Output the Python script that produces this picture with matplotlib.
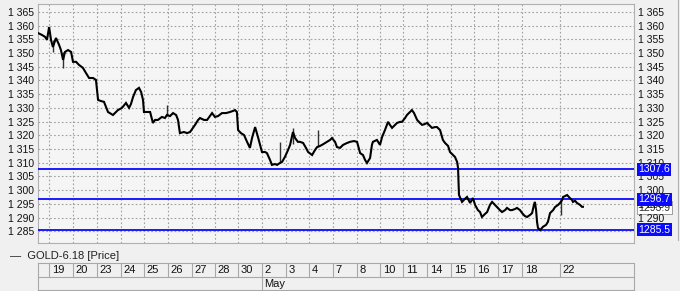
import matplotlib.pyplot as plt
import matplotlib.transforms as mtransforms

plt.rcParams['font.family'] = ['Liberation Sans', 'DejaVu Sans']

# price trace, time in trading days from left edge of the chart
t = [0.00, 0.17, 0.30, 0.38, 0.47, 0.55, 0.63, 0.76, 0.89, 0.97, 1.06, 1.14, 1.27, 1.40, 1.48,
     1.61, 1.73, 1.90, 2.03, 2.16, 2.33, 2.45, 2.54, 2.66, 2.79, 2.96, 3.09, 3.17, 3.30, 3.38,
     3.55, 3.72, 3.85, 3.93, 4.02, 4.14, 4.27, 4.36, 4.44, 4.48, 4.65, 4.74, 4.86, 4.95, 5.07,
     5.24, 5.37, 5.45, 5.58, 5.71, 5.84, 5.92, 6.00, 6.17, 6.30, 6.43, 6.55, 6.64, 6.77, 6.85,
     7.02, 7.15, 7.27, 7.36, 7.48, 7.61, 7.78, 7.95, 8.12, 8.25, 8.33, 8.41, 8.46, 8.58, 8.71,
     8.84, 8.96, 9.05, 9.18, 9.30, 9.39, 9.47, 9.60, 9.68, 9.81, 9.89, 10.02, 10.11, 10.23, 10.32,
     10.44, 10.57, 10.66, 10.78, 10.87, 10.99, 11.08, 11.21, 11.33, 11.42, 11.59, 11.71, 11.80, 11.92, 12.01,
     12.14, 12.22, 12.35, 12.43, 12.56, 12.64, 12.77, 12.90, 13.07, 13.19, 13.36, 13.49, 13.62, 13.74, 13.83,
     13.91, 14.04, 14.12, 14.16, 14.33, 14.46, 14.55, 14.67, 14.80, 14.88, 14.97, 15.10, 15.18, 15.31, 15.39,
     15.52, 15.60, 15.73, 15.81, 15.90, 16.03, 16.15, 16.24, 16.36, 16.45, 16.58, 16.66, 16.79, 16.87, 17.00,
     17.12, 17.21, 17.34, 17.42, 17.55, 17.63, 17.72, 17.76, 17.80, 17.93, 18.05, 18.14, 18.27, 18.39, 18.48,
     18.60, 18.69, 18.77, 18.90, 18.99, 19.11, 19.20, 19.32, 19.41, 19.53, 19.62, 19.75, 19.83, 19.96, 20.04,
     20.17, 20.25, 20.38, 20.47, 20.59, 20.68, 20.80, 20.89, 20.97, 21.01, 21.06, 21.10, 21.14, 21.23, 21.35,
     21.48, 21.56, 21.65, 21.78, 21.86, 21.99, 22.07, 22.16, 22.20, 22.28, 22.37, 22.49, 22.58, 22.62, 22.71,
     22.79, 22.92, 23.00, 23.04]
price = [1357.3, 1356.6, 1355.9, 1354.8, 1359.5, 1354.8, 1352.2, 1355.5, 1353.0, 1351.1, 1347.5, 1350.4, 1351.1, 1350.4, 1346.8,
         1346.8, 1345.7, 1344.6, 1342.7, 1340.9, 1340.9, 1340.2, 1332.9, 1332.5, 1332.2, 1328.5, 1327.8, 1327.4, 1328.5, 1329.2,
         1330.0, 1331.8, 1330.0, 1331.4, 1334.0, 1336.5, 1337.3, 1335.8, 1332.9, 1328.5, 1328.5, 1328.5, 1324.5, 1325.6, 1325.6,
         1326.7, 1326.3, 1327.4, 1327.0, 1328.1, 1327.4, 1325.6, 1320.8, 1321.2, 1320.8, 1321.2, 1322.7, 1323.8, 1325.6, 1326.3,
         1325.6, 1325.6, 1327.0, 1328.1, 1326.7, 1327.0, 1328.1, 1328.1, 1328.5, 1328.9, 1329.2, 1328.5, 1321.9, 1320.8, 1320.1,
         1317.6, 1315.4, 1319.0, 1323.0, 1319.4, 1316.5, 1313.9, 1313.9, 1313.5, 1311.0, 1309.2, 1309.5, 1309.2, 1309.9, 1310.3,
         1312.1, 1314.6, 1316.5, 1321.2, 1319.0, 1317.6, 1317.6, 1317.2, 1315.4, 1313.9, 1312.8, 1314.6, 1315.7, 1316.1, 1316.5,
         1317.2, 1317.6, 1318.3, 1319.0, 1317.6, 1315.7, 1315.4, 1316.5, 1317.2, 1317.6, 1317.9, 1317.6, 1313.5, 1312.8, 1311.0,
         1309.9, 1311.7, 1316.5, 1317.6, 1318.3, 1316.5, 1319.4, 1321.9, 1324.9, 1323.8, 1322.7, 1323.8, 1324.5, 1324.9, 1324.9,
         1326.3, 1327.4, 1328.5, 1329.2, 1328.1, 1325.6, 1324.5, 1323.8, 1324.1, 1324.5, 1323.4, 1322.7, 1323.0, 1323.0, 1321.9,
         1318.3, 1317.2, 1316.1, 1313.9, 1312.8, 1312.1, 1310.3, 1308.1, 1298.2, 1295.7, 1296.8, 1297.5, 1295.3, 1297.1, 1294.6,
         1292.7, 1292.0, 1290.2, 1291.3, 1292.0, 1294.6, 1295.7, 1294.6, 1293.8, 1292.7, 1292.0, 1292.7, 1293.5, 1292.7, 1292.7,
         1293.1, 1293.5, 1292.7, 1291.6, 1290.5, 1290.2, 1290.9, 1291.6, 1294.6, 1295.7, 1292.7, 1288.4, 1286.2, 1285.4, 1286.6,
         1287.3, 1288.4, 1291.6, 1292.7, 1293.8, 1294.6, 1295.3, 1296.4, 1297.5, 1297.8, 1298.2, 1297.1, 1296.4, 1295.7, 1296.1,
         1295.3, 1294.6, 1293.9, 1293.9]

# a few long wicks
wick_t = [0.63, 1.06, 5.45, 10.23, 10.78, 11.84, 22.11]
wick_lo = [1350.4, 1344.6, 1327.0, 1309.9, 1317.0, 1315.7, 1290.9]
wick_hi = [1354.8, 1350.4, 1331.1, 1317.6, 1322.7, 1321.9, 1296.4]

levels = [1307.6, 1296.7, 1285.5]
last_price = 1293.9

day_edges = [0.47, 1.48, 2.49, 3.51, 4.48, 5.50, 6.51, 7.48, 8.46, 9.47, 10.49, 11.46, 12.47, 13.49,
             14.46, 15.43, 16.45, 17.46, 18.44, 19.45, 20.47, 22.07]
day_labels = ['19', '20', '23', '24', '25', '26', '27', '28', '30', '2', '3', '4', '7', '8',
              '10', '11', '14', '15', '16', '17', '18', '22']
month_start = 9.47
month_label = 'May'
yticks = list(range(1285, 1366, 5))

BG = '#f0f0f0'
GRID = '#a0a0a0'
BLUE = '#0a0aff'
XMAX = 25.2

fig = plt.figure(figsize=(6.8, 2.91), dpi=100, facecolor=BG)
ax = fig.add_axes([38 / 680, 48 / 291, 596 / 680, 239 / 291])
ax.set_facecolor('#f5f5f5')
ax.set_xlim(0, XMAX)
ax.set_ylim(1280.7, 1367.9)

ax.set_yticks(yticks)
ax.set_yticklabels(['1 %03d' % (v - 1000) for v in yticks])
ax.set_xticks(day_edges)
ax.set_xticklabels([])
ax.tick_params(axis='y', which='both', length=0, pad=3, labelsize=7.5,
               left=True, right=True, labelleft=True, labelright=True, colors='#101010')
ax.tick_params(axis='x', length=0)
ax.grid(True, color=GRID, linestyle=(0, (1.5, 2)), linewidth=0.8)
for s in ax.spines.values():
    s.set_color('#b0b0b0')
    s.set_linewidth(0.8)

for lv in levels:
    ax.axhline(lv, color=BLUE, linewidth=1.3, zorder=3)

ax.vlines(wick_t, wick_lo, wick_hi, color='#303030', linewidth=1.0, zorder=4)
ax.plot(t, price, color='black', linewidth=1.5, zorder=5, solid_joinstyle='miter')

# price tags on the right side
trans = mtransforms.blended_transform_factory(ax.transAxes, ax.transData)
ax.text(1.007, last_price - 0.4, '1293.9', transform=trans, fontsize=7.5, color='#303030',
        va='center', ha='left', clip_on=False, zorder=1,
        bbox=dict(boxstyle='square,pad=0.15', fc='white', ec='#909090', lw=0.6))
for lv in levels:
    ax.text(1.007, lv, '%.1f' % lv, transform=trans, fontsize=7.5, color='white',
            va='center', ha='left', clip_on=False, zorder=10,
            bbox=dict(boxstyle='square,pad=0.15', fc=BLUE, ec='none'))

# legend line
fig.text(10 / 680, 1 - 256 / 291, '—  GOLD-6.18 [Price]', fontsize=8, color='#202020',
         va='center', ha='left')

# date axis
dx = fig.add_axes([38 / 680, 1 / 291, 596 / 680, 27 / 291])
dx.set_xlim(0, XMAX)
dx.set_ylim(0, 1)
dx.set_facecolor(BG)
dx.set_xticks([])
dx.set_yticks([])
for s in dx.spines.values():
    s.set_color('#a8a8a8')
    s.set_linewidth(0.8)
dx.axhline(0.5, color='#a8a8a8', linewidth=0.8)
dx.vlines(day_edges, 0.5, 1, color='#a8a8a8', linewidth=0.8)
dx.vlines([month_start], 0, 0.5, color='#a8a8a8', linewidth=0.8)
for e, lab in zip(day_edges, day_labels):
    dx.text(e + 0.12, 0.74, lab, fontsize=8, va='center', ha='left', color='#101010')
dx.text(month_start + 0.08, 0.24, month_label, fontsize=8, va='center', ha='left', color='#101010')

# scrollbar edge at far right
fig.add_artist(plt.Line2D([678 / 680, 678 / 680], [1 - 240 / 291, 1], color='#b0b0b0',
                          linewidth=0.8, transform=fig.transFigure))

fig.savefig('out.png', dpi=100, facecolor=BG)
